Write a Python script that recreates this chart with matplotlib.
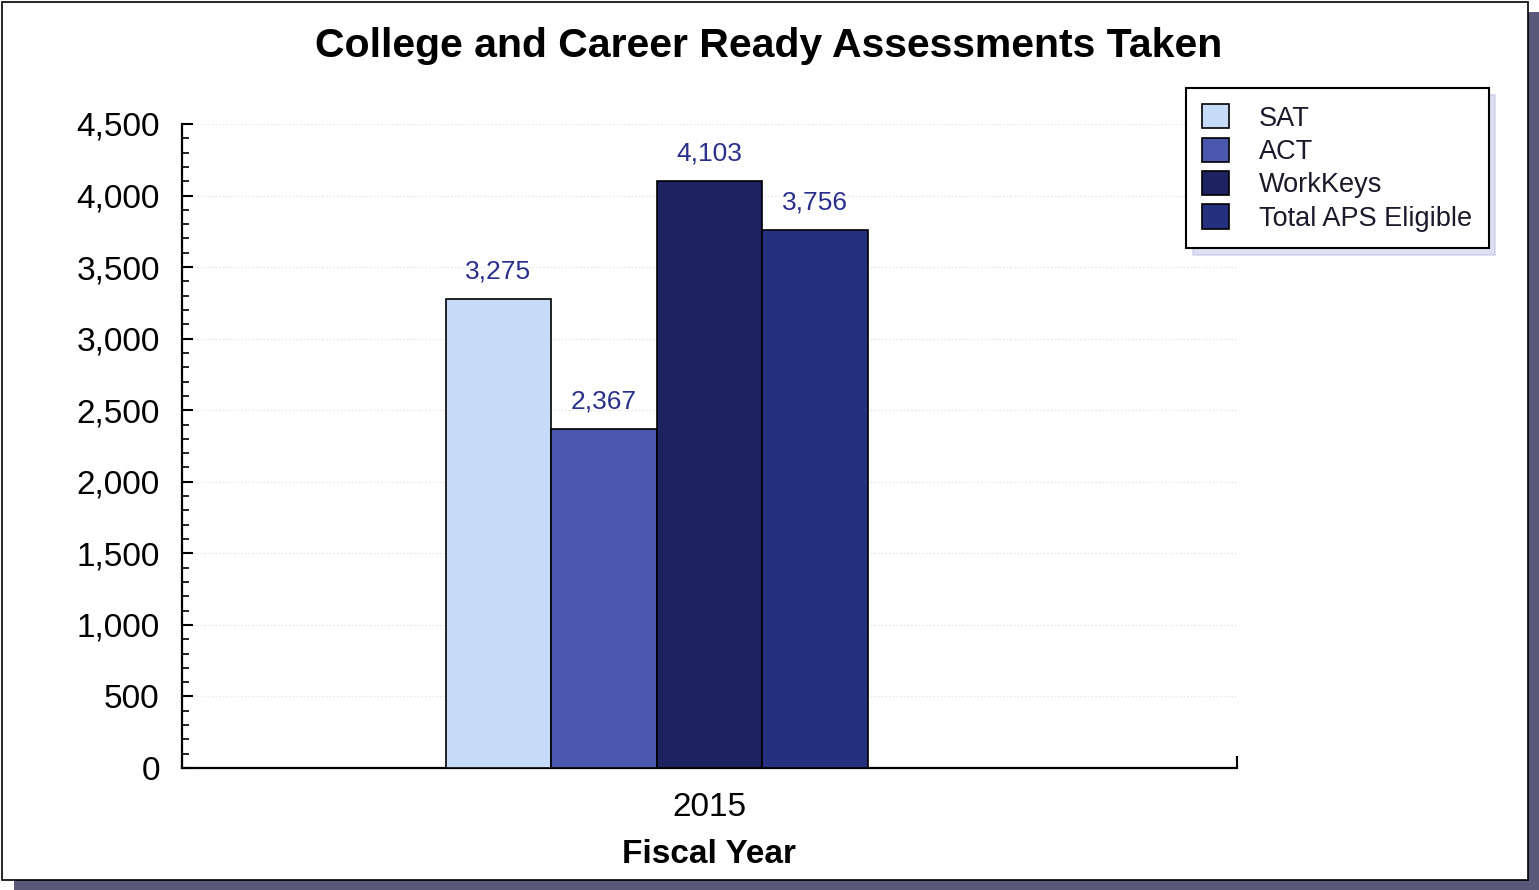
import numpy as np
import matplotlib.pyplot as plt
from matplotlib.patches import Rectangle
from matplotlib.ticker import MultipleLocator, FuncFormatter

plt.rcParams['font.family'] = ['Liberation Sans', 'DejaVu Sans']

title = "College and Career Ready Assessments Taken"
years = ["2015"]
series = ["SAT", "ACT", "WorkKeys", "Total APS Eligible"]
values = [3275, 2367, 4103, 3756]
colors = ['#c6dbf7', '#4a58ad', '#1e2260', '#25307f']

W, H = 1539, 890
fig = plt.figure(figsize=(W / 100, H / 100), dpi=100)

# frame with shadow
fig.patches.append(Rectangle((14 / W, 0), 1 - 14 / W, 1 - 12 / H, transform=fig.transFigure,
                             facecolor='#5b587a', edgecolor='none', zorder=-3))
fig.patches.append(Rectangle((2 / W, 10 / H), 1526 / W, 878 / H, transform=fig.transFigure,
                             facecolor='white', edgecolor='black', lw=1.2, zorder=-2))

ax = fig.add_axes([182 / W, 1 - 768 / H, (1237 - 182) / W, (768 - 124) / H])
ax.set_facecolor('none')

width = 0.1
x = np.arange(len(years))
for i, (name, v, c) in enumerate(zip(series, values, colors)):
    xpos = x + (i - 2) * width
    ax.bar(xpos, [v], width, color=c, edgecolor='black', lw=1.2, label=name, zorder=3)
    ax.text(xpos[0], v + 110, f"{v:,}", ha='center', va='bottom',
            fontsize=19, color='#2a2f8c', zorder=4)

ax.set_xlim(-0.5, 0.5)
ax.set_ylim(0, 4500)
ax.yaxis.set_major_locator(MultipleLocator(500))
ax.yaxis.set_minor_locator(MultipleLocator(100))
ax.yaxis.set_major_formatter(FuncFormatter(lambda v, p: f"{int(v):,}"))
ax.tick_params(axis='y', which='major', direction='in', length=8, width=1.5, labelsize=24, pad=16)
ax.tick_params(axis='y', which='minor', direction='in', length=5, width=1.2)

ax.set_xticks([-0.5, 0.5])
ax.set_xticklabels(['', ''])
ax.set_xticks(x, minor=True)
ax.set_xticklabels(years, minor=True)
ax.tick_params(axis='x', which='major', direction='in', length=9, width=1.5)
ax.tick_params(axis='x', which='minor', length=0, labelsize=24, pad=17)

for s in ['top', 'right']:
    ax.spines[s].set_visible(False)
for s in ['left', 'bottom']:
    ax.spines[s].set_linewidth(1.6)

ax.yaxis.grid(True, which='major', color='#e4e4e4', linestyle=':', lw=1, zorder=0)

ax.set_xlabel("Fiscal Year", fontsize=24, fontweight='bold', labelpad=12)

fig.text(769 / W, 1 - 46 / H, title, ha='center', va='center', fontsize=29.5, fontweight='bold')

leg = fig.legend(loc='upper left', bbox_to_anchor=(1186 / W, 1 - 88 / H), fontsize=19.5,
                 frameon=True, fancybox=False, shadow={'color': '#c0c0e6', 'ox': 5, 'oy': -5},
                 borderpad=0.6, borderaxespad=0,
                 handlelength=1.0, handleheight=1.0, handletextpad=1.1, labelspacing=0.22)
leg.get_frame().set_edgecolor('black')
leg.get_frame().set_linewidth(1.5)
for t in leg.get_texts():
    t.set_color('#1a1a2a')

fig.savefig('out.png', dpi=100)
